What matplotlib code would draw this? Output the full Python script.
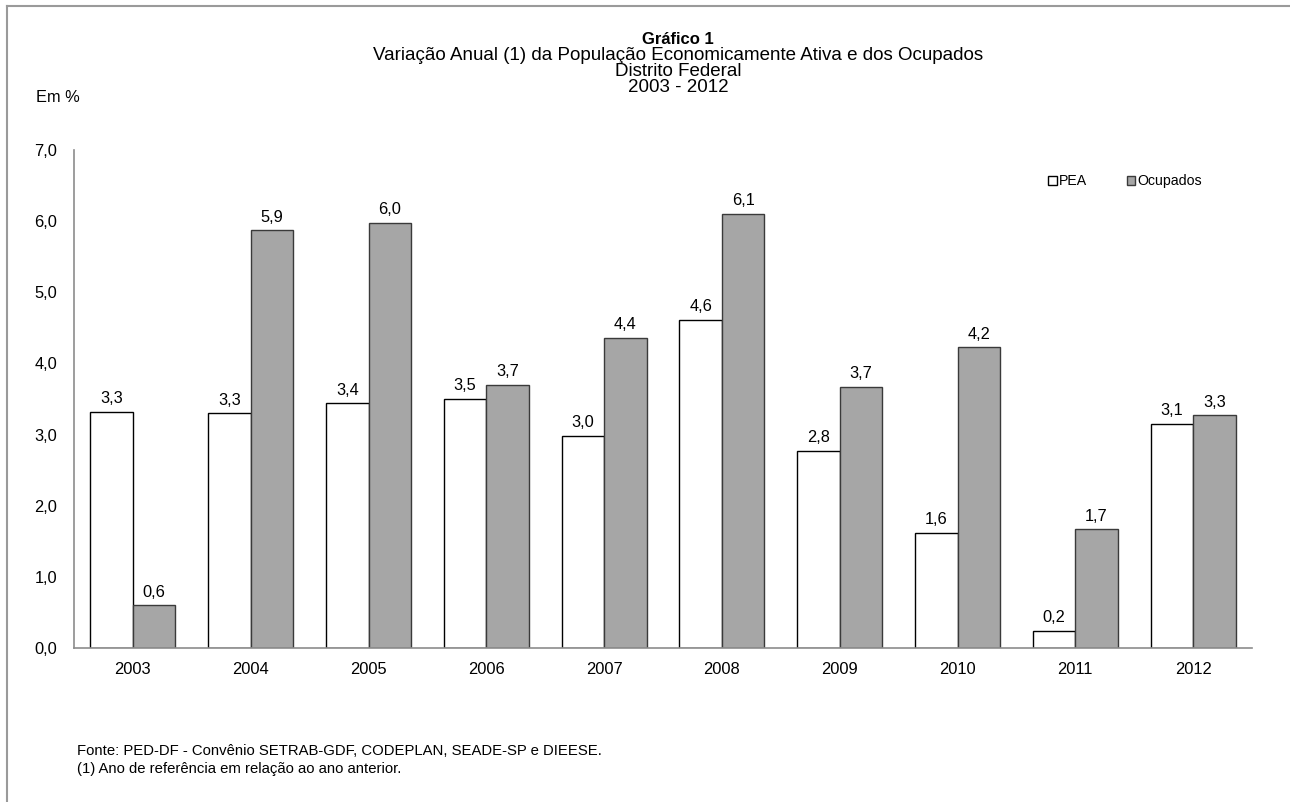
import numpy as np
from matplotlib import pyplot as plt
from matplotlib import lines as mlines

anos = ['2003', '2004', '2005', '2006', '2007', '2008', '2009', '2010', '2011', '2012']
pea = [3.32, 3.30, 3.44, 3.50, 2.98, 4.61, 2.77, 1.62, 0.24, 3.15]
ocupados = [0.60, 5.87, 5.98, 3.70, 4.36, 6.10, 3.67, 4.23, 1.67, 3.27]
yticks = [0, 1, 2, 3, 4, 5, 6, 7]

plt.rcParams['font.family'] = ['Liberation Sans', 'DejaVu Sans']

fig = plt.figure(figsize=(12.9, 8.02), dpi=100)
ax = fig.add_axes([74/1290, 1 - 648/802, (1252-74)/1290, (648-150)/802])

x = np.arange(len(anos))
w = 0.36
b1 = ax.bar(x - w/2, pea, w, color='white', edgecolor='black', linewidth=1, label='PEA')
b2 = ax.bar(x + w/2, ocupados, w, color='#a6a6a6', edgecolor='#3a3a3a', linewidth=1, label='Ocupados')

for bars, vals in ((b1, pea), (b2, ocupados)):
	for rect, v in zip(bars, vals):
		label = f"{v:.1f}".replace('.', ',')
		ax.annotate(label, (rect.get_x() + rect.get_width()/2, v), textcoords="offset points",
					xytext=(0, 4), ha='center', va='bottom', fontsize=11.8)

ax.set_xlim(-0.5, len(anos) - 0.5)
ax.set_ylim(0, 7)
ax.set_xticks(x)
ax.set_xticklabels(anos, fontsize=11.9)
ax.set_yticks(yticks)
ax.set_yticklabels([f"{t:.1f}".replace('.', ',') for t in yticks], fontsize=11.8)
ax.tick_params(length=0)
ax.tick_params(axis='y', pad=12)
ax.tick_params(axis='x', pad=10)
for s in ['top', 'right']:
	ax.spines[s].set_visible(False)
for s in ['left', 'bottom']:
	ax.spines[s].set_color('#8c8c8c')
	ax.spines[s].set_linewidth(1.2)

ax.legend(loc='center', bbox_to_anchor=(1125/1290, 1 - 181/802), bbox_transform=fig.transFigure,
		  ncol=2, frameon=False, fontsize=10.2, handlelength=0.6, handleheight=0.6,
		  handletextpad=0.15, columnspacing=2.8, borderpad=0)

cx = 678/1290
fig.text(cx, 1 - 40/802, 'Gráfico 1', ha='center', va='center', fontsize=12, fontweight='bold')
fig.text(cx, 1 - 56/802, 'Variação Anual (1) da População Economicamente Ativa e dos Ocupados', ha='center', va='center', fontsize=13.5)
fig.text(cx, 1 - 72/802, 'Distrito Federal', ha='center', va='center', fontsize=13.5)
fig.text(cx, 1 - 88/802, '2003 - 2012', ha='center', va='center', fontsize=13.5)
fig.text(36/1290, 1 - 98/802, 'Em %', ha='left', va='center', fontsize=11.8)

fig.text(77/1290, 1 - 751/802, 'Fonte: PED-DF - Convênio SETRAB-GDF, CODEPLAN, SEADE-SP e DIEESE.', ha='left', va='center', fontsize=10.7)
fig.text(77/1290, 1 - 769/802, '(1) Ano de referência em relação ao ano anterior.', ha='left', va='center', fontsize=10.7)

# moldura cinza (topo e esquerda)
fig.add_artist(mlines.Line2D([7/1290, 1], [1 - 6/802, 1 - 6/802], color='#9a9a9a', linewidth=1.5))
fig.add_artist(mlines.Line2D([7/1290, 7/1290], [0, 1 - 6/802], color='#9a9a9a', linewidth=1.5))

fig.savefig('out.png', dpi=100)
